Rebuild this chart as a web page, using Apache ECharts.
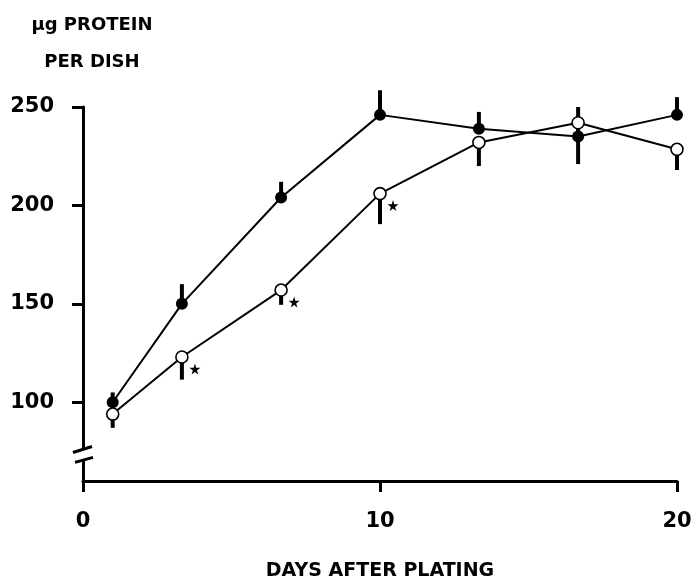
<!DOCTYPE html>
<html>
<head>
<meta charset="utf-8">
<script src="https://cdn.jsdelivr.net/npm/echarts@6/dist/echarts.min.js"></script>
<style>
html,body{margin:0;padding:0;background:#fff;}
#c{width:693px;height:580px;}
</style>
</head>
<body>
<div id="c"></div>
<script>
// Data
const days = [1, 3.33, 6.67, 10, 13.33, 16.67, 20];
const filledValues = [100, 150, 204, 246, 239, 235, 246];
const filledErrUp = [5, 10, 8, 12.5, 8.5, 15, 9];
const openValues = [94, 123, 157, 206, 232, 242, 228.5];
const openErrDown = [7, 11.5, 7.5, 15.5, 12, 21, 10.5];
const openSignificant = [false, true, true, true, false, false, false];
const xTicks = [0, 10, 20];
const yTicks = [100, 150, 200, 250];
const yBreak = [71, 76];
const yTitleLines = ['μg PROTEIN', 'PER DISH'];
const xTitle = 'DAYS AFTER PLATING';

const FONT = 'DejaVu Sans';
const filledData = days.map((d, i) => [d, filledValues[i]]);
const openData = days.map((d, i) => [d, openValues[i]]);
const errData = days.map((d, i) => [d, filledValues[i], filledValues[i] + filledErrUp[i]])
  .concat(days.map((d, i) => [d, openValues[i], openValues[i] - openErrDown[i]]));
const starData = days.map((d, i) => openSignificant[i] ? [d, openValues[i]] : null).filter(Boolean);
const STAR = 'path://M50,0 L61,35 L98,35 L68,57 L79,91 L50,70 L21,91 L32,57 L2,35 L39,35 Z';

const chart = echarts.init(document.getElementById('c'), null, {renderer: 'canvas'});
chart.setOption({
  animation: false,
  backgroundColor: '#fff',
  grid: {left: 83, right: 16, top: 107, bottom: 99, containLabel: false, outerBoundsMode: 'none'},
  graphic: [
    {type: 'text', x: 92, y: 25, style: {text: yTitleLines[0], textAlign: 'center', textVerticalAlign: 'middle', font: 'bold 18px "DejaVu Sans"', fill: '#000'}},
    {type: 'text', x: 92, y: 62, style: {text: yTitleLines[1], textAlign: 'center', textVerticalAlign: 'middle', font: 'bold 18px "DejaVu Sans"', fill: '#000'}}
  ],
  xAxis: {
    type: 'value', min: 0, max: 20, interval: 10,
    name: xTitle, nameLocation: 'middle', nameGap: 81,
    nameTextStyle: {color: '#000', fontFamily: FONT, fontWeight: 'bold', fontSize: 19},
    axisLine: {show: true, lineStyle: {color: '#000', width: 3}},
    axisTick: {show: true, length: 11, lineStyle: {color: '#000', width: 3}},
    axisLabel: {color: '#000', fontFamily: FONT, fontWeight: 'bold', fontSize: 21, margin: 30,
      formatter: v => xTicks.includes(v) ? String(v) : ''},
    splitLine: {show: false}
  },
  yAxis: {
    type: 'value', min: 60, max: 250,
    axisLine: {show: true, lineStyle: {color: '#000', width: 3}},
    axisTick: {show: true, length: 11, lineStyle: {color: '#000', width: 3}, customValues: yTicks},
    axisLabel: {color: '#000', fontFamily: FONT, fontWeight: 'bold', fontSize: 21, margin: 29, customValues: yTicks},
    splitLine: {show: false}
  },
  series: [
    {
      type: 'custom', name: 'axisBreak', clip: false, z: 5, silent: true,
      data: [[0, yBreak[0], yBreak[1]]],
      renderItem: function (params, api) {
        const lo = api.coord([api.value(0), api.value(1)]);
        const hi = api.coord([api.value(0), api.value(2)]);
        const st = {stroke: '#000', lineWidth: 3};
        return {type: 'group', children: [
          {type: 'rect', shape: {x: lo[0] - 4, y: hi[1], width: 8, height: lo[1] - hi[1]}, style: {fill: '#fff'}},
          {type: 'line', shape: {x1: hi[0] - 10, y1: hi[1] + 3, x2: hi[0] + 9, y2: hi[1] - 3}, style: st},
          {type: 'line', shape: {x1: lo[0] - 8, y1: lo[1] + 3, x2: lo[0] + 10, y2: lo[1] - 2}, style: st}
        ]};
      }
    },
    {
      type: 'custom', name: 'errorBars', clip: false, z: 2, silent: true,
      data: errData,
      renderItem: function (params, api) {
        const a = api.coord([api.value(0), api.value(1)]);
        const b = api.coord([api.value(0), api.value(2)]);
        return {type: 'line', shape: {x1: a[0], y1: a[1], x2: b[0], y2: b[1]}, style: {stroke: '#000', lineWidth: 4}};
      }
    },
    {
      type: 'line', name: 'filled', data: filledData, z: 3,
      symbol: 'circle', symbolSize: 12, showAllSymbol: true,
      lineStyle: {color: '#000', width: 2},
      itemStyle: {color: '#000', borderColor: '#000', borderWidth: 0}
    },
    {
      type: 'line', name: 'open', data: openData, z: 4,
      symbol: 'circle', symbolSize: 12, showAllSymbol: true,
      lineStyle: {color: '#000', width: 2},
      itemStyle: {color: '#fff', borderColor: '#000', borderWidth: 1.6}
    },
    {
      type: 'scatter', name: 'significance', data: starData, z: 4,
      symbol: STAR, symbolSize: 11, symbolOffset: [13, 12],
      itemStyle: {color: '#000', opacity: 1}
    }
  ]
});
</script>
</body>
</html>
